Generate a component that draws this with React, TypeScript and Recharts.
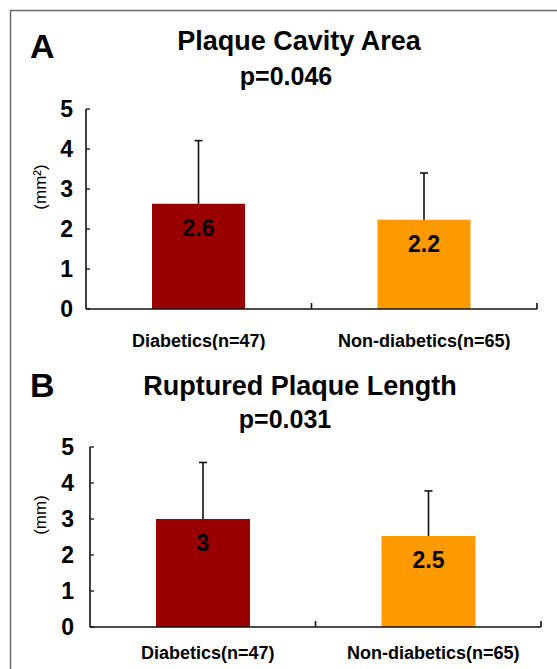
import React from 'react';
import { BarChart, Bar, XAxis, YAxis, Cell, LabelList, Label } from 'recharts';

const categories = ['Diabetics(n=47)', 'Non-diabetics(n=65)'];
const cavityMeans = [2.63, 2.23];
const cavityErrors = [1.58, 1.17];
const lengthMeans = [3.0, 2.53];
const lengthErrors = [1.57, 1.25];
const barColors = ['#990000', '#FF9900'];
const yTicks = [0, 1, 2, 3, 4, 5];

const FONT = '"Liberation Sans", Arial, Helvetica, sans-serif';
const INK = '#111';

const cavityData = categories.map((name, i) => ({ name, mean: cavityMeans[i], err: cavityErrors[i] }));
const lengthData = categories.map((name, i) => ({ name, mean: lengthMeans[i], err: lengthErrors[i] }));

const ErrShape = (props: any) => {
  const { x, y, width, height } = props;
  if (x == null || y == null) return null;
  const cx = x + width / 2;
  return (
    <g>
      <line x1={cx} x2={cx} y1={y + height} y2={y} stroke={INK} strokeWidth={1.6} />
      <line x1={cx - 4} x2={cx + 4} y1={y} y2={y} stroke={INK} strokeWidth={1.6} />
    </g>
  );
};

const fmt = (v: any) => String(Number(Number(v).toFixed(1)));

const unitLabel = (text: string) => (props: any) => {
  const vb = props.viewBox || {};
  const x = (vb.x || 0) + 40;
  const y = (vb.y || 0) + (vb.height || 0) / 2 - 22;
  return (
    <text
      x={x}
      y={y}
      transform={`rotate(-90, ${x}, ${y})`}
      textAnchor="middle"
      dominantBaseline="central"
      fontFamily={FONT}
      fontSize={17}
      fill="#000"
    >
      {text}
    </text>
  );
};

// category label plus a small upward tick mark at the right boundary of each category
const makeCatTick = (tickMargin: number, dx: number) => (props: any) => {
  const { x, y, payload, width, visibleTicksCount } = props;
  const axisY = Number(y) - tickMargin;
  let half = 0;
  if (payload && Number(payload.offset) > 0) half = Number(payload.offset);
  else if (Number(width) > 0 && visibleTicksCount) half = Number(width) / visibleTicksCount / 2;
  const bx = Number(x) + half;
  return (
    <g>
      <path d={`M${bx},${axisY}L${bx},${axisY - 6}`} stroke={INK} strokeWidth={1.6} fill="none" />
      <text
        x={Number(x) + dx}
        y={y}
        dy="0.71em"
        textAnchor="middle"
        fontFamily={FONT}
        fontSize={18}
        fontWeight="bold"
        fill="#000"
      >
        {payload.value}
      </text>
    </g>
  );
};

type PanelProps = {
  data: any[];
  width: number;
  height: number;
  margin: { top: number; right: number; bottom: number; left: number };
  yWidth: number;
  xHeight: number;
  yTickMargin: number;
  xTickMargin: number;
  labelDx: number;
  barSize: number;
  unit: string;
};

const Panel = ({ data, width, height, margin, yWidth, xHeight, yTickMargin, xTickMargin, labelDx, barSize, unit }: PanelProps) => (
  <BarChart width={width} height={height} data={data} margin={margin} barSize={barSize}>
    <XAxis
      dataKey="name"
      height={xHeight}
      tickLine={false}
      tickSize={0}
      tickMargin={xTickMargin}
      axisLine={{ stroke: INK, strokeWidth: 1.6 }}
      tick={makeCatTick(xTickMargin, labelDx)}
      interval={0}
    />
    <YAxis
      domain={[0, 5]}
      ticks={yTicks}
      interval={0}
      width={yWidth}
      axisLine={{ stroke: INK, strokeWidth: 1.6 }}
      tickLine={{ stroke: INK, strokeWidth: 1.3 }}
      tickSize={-4}
      tickMargin={yTickMargin}
      tick={{ fontFamily: FONT, fontSize: 23, fontWeight: 'bold', fill: '#000' }}
    >
      <Label content={unitLabel(unit)} />
    </YAxis>
    <Bar dataKey="mean" stackId="s" isAnimationActive={false}>
      {data.map((_, i) => (
        <Cell key={i} fill={barColors[i]} />
      ))}
      <LabelList
        dataKey="mean"
        position="insideTop"
        offset={16}
        formatter={fmt}
        style={{ fontFamily: FONT, fontSize: 23, fontWeight: 'bold', fill: '#000' }}
      />
    </Bar>
    <Bar dataKey="err" stackId="s" isAnimationActive={false} shape={ErrShape} />
  </BarChart>
);

export default function App() {
  return (
    <div style={{ position: 'absolute', left: 0, top: 0, width: 557, height: 669, background: '#fff', overflow: 'hidden', fontFamily: FONT }}>
      <div style={{ position: 'absolute', left: 0, top: 0 }}>
        <Panel
          data={cavityData}
          width={557}
          height={350}
          margin={{ top: 109, right: 20, bottom: 1, left: 0 }}
          yWidth={86}
          xHeight={40}
          yTickMargin={17}
          xTickMargin={25}
          labelDx={0}
          barSize={93}
          unit="(mm²)"
        />
      </div>
      <div style={{ position: 'absolute', left: 0, top: 350 }}>
        <Panel
          data={lengthData}
          width={557}
          height={319}
          margin={{ top: 97, right: 16, bottom: 0, left: 0 }}
          yWidth={90}
          xHeight={42}
          yTickMargin={20}
          xTickMargin={19}
          labelDx={5}
          barSize={94}
          unit="(mm)"
        />
      </div>
      <svg width={557} height={669} style={{ position: 'absolute', left: 0, top: 0, pointerEvents: 'none' }}>
        <line x1={10} y1={10.5} x2={557} y2={10.5} stroke="#6a6a6a" strokeWidth={1.5} />
        <line x1={10.5} y1={10} x2={10.5} y2={669} stroke="#6a6a6a" strokeWidth={1.5} />
        <g fontFamily={FONT} fontWeight="bold" fill="#000">
          <text x={30} y={58} fontSize={34}>A</text>
          <text x={299} y={50} fontSize={27} textAnchor="middle">Plaque Cavity Area</text>
          <text x={286} y={85} fontSize={25} textAnchor="middle">p=0.046</text>
          <text x={30} y={397} fontSize={34}>B</text>
          <text x={300} y={395} fontSize={27} textAnchor="middle">Ruptured Plaque Length</text>
          <text x={285} y={428} fontSize={25} textAnchor="middle">p=0.031</text>
        </g>
      </svg>
    </div>
  );
}
